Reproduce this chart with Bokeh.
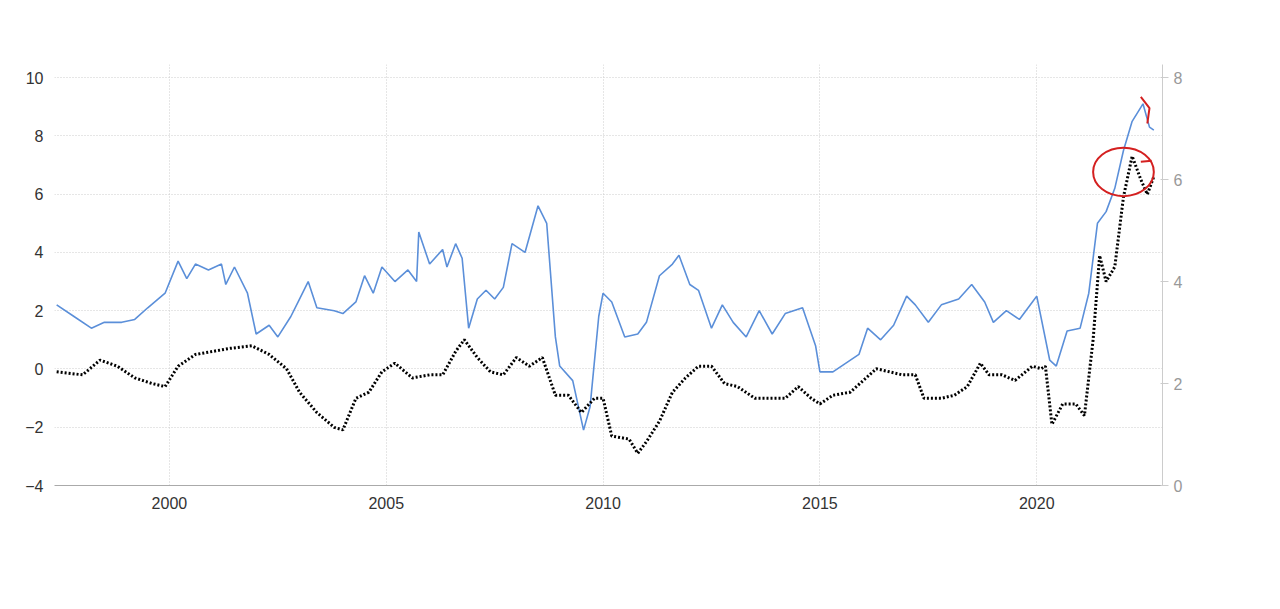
from bokeh.plotting import figure
from bokeh.models import Range1d, LinearAxis, Label, Legend, LegendItem, FixedTicker
from bokeh.embed import file_html
from bokeh.resources import INLINE

# US inflation rate (left axis, %)
cpi_t = [1997.4, 1997.8, 1998.2, 1998.5, 1998.9, 1999.2, 1999.5, 1999.9, 2000.2, 2000.4,
         2000.6, 2000.9, 2001.2, 2001.3, 2001.5, 2001.8, 2002.0, 2002.3, 2002.5, 2002.8,
         2003.0, 2003.2, 2003.4, 2003.8, 2004.0, 2004.3, 2004.5, 2004.7, 2004.9, 2005.2,
         2005.5, 2005.7, 2005.75, 2006.0, 2006.3, 2006.4, 2006.6, 2006.75, 2006.9, 2007.1,
         2007.3, 2007.5, 2007.7, 2007.9, 2008.2, 2008.5, 2008.7, 2008.9, 2009.0, 2009.3,
         2009.55, 2009.7, 2009.9, 2010.0, 2010.2, 2010.5, 2010.8, 2011.0, 2011.3, 2011.6,
         2011.75, 2012.0, 2012.2, 2012.5, 2012.75, 2013.0, 2013.3, 2013.6, 2013.9, 2014.2,
         2014.6, 2014.9, 2015.0, 2015.3, 2015.6, 2015.9, 2016.1, 2016.4, 2016.7, 2017.0,
         2017.2, 2017.5, 2017.8, 2018.2, 2018.5, 2018.8, 2019.0, 2019.3, 2019.6, 2019.9,
         2020.0, 2020.3, 2020.45, 2020.7, 2021.0, 2021.2, 2021.4, 2021.6, 2021.8, 2022.0,
         2022.2, 2022.45, 2022.6, 2022.7]
cpi_v = [2.2, 1.8, 1.4, 1.6, 1.6, 1.7, 2.1, 2.6, 3.7, 3.1,
         3.6, 3.4, 3.6, 2.9, 3.5, 2.6, 1.2, 1.5, 1.1, 1.8,
         2.4, 3.0, 2.1, 2.0, 1.9, 2.3, 3.2, 2.6, 3.5, 3.0,
         3.4, 3.0, 4.7, 3.6, 4.1, 3.5, 4.3, 3.8, 1.4, 2.4,
         2.7, 2.4, 2.8, 4.3, 4.0, 5.6, 5.0, 1.1, 0.1, -0.4,
         -2.1, -1.3, 1.8, 2.6, 2.3, 1.1, 1.2, 1.6, 3.2, 3.6,
         3.9, 2.9, 2.7, 1.4, 2.2, 1.6, 1.1, 2.0, 1.2, 1.9,
         2.1, 0.8, -0.1, -0.1, 0.2, 0.5, 1.4, 1.0, 1.5, 2.5,
         2.2, 1.6, 2.2, 2.4, 2.9, 2.3, 1.6, 2.0, 1.7, 2.3,
         2.5, 0.3, 0.1, 1.3, 1.4, 2.6, 5.0, 5.4, 6.2, 7.5,
         8.5, 9.1, 8.3, 8.2]

# US core inflation rate (right axis, %)
core_t = [1997.4, 1998.0, 1998.4, 1998.8, 1999.2, 1999.6, 1999.9, 2000.2, 2000.6, 2001.0,
          2001.4, 2001.9, 2002.3, 2002.7, 2003.0, 2003.4, 2003.8, 2004.0, 2004.3, 2004.6,
          2004.9, 2005.2, 2005.6, 2006.0, 2006.3, 2006.6, 2006.8, 2007.1, 2007.4, 2007.7,
          2008.0, 2008.3, 2008.6, 2008.9, 2009.2, 2009.5, 2009.8, 2010.0, 2010.2, 2010.6,
          2010.8, 2011.0, 2011.3, 2011.6, 2011.9, 2012.2, 2012.5, 2012.8, 2013.1, 2013.5,
          2013.8, 2014.2, 2014.5, 2014.8, 2015.0, 2015.3, 2015.7, 2016.0, 2016.3, 2016.6,
          2016.9, 2017.2, 2017.4, 2017.8, 2018.1, 2018.4, 2018.7, 2018.9, 2019.2, 2019.5,
          2019.9, 2020.1, 2020.2, 2020.35, 2020.6, 2020.9, 2021.1, 2021.3, 2021.45, 2021.6,
          2021.8, 2022.0, 2022.2, 2022.4, 2022.55, 2022.7]
core_v = [2.23, 2.17, 2.46, 2.34, 2.11, 2.0, 1.94, 2.34, 2.57, 2.63,
          2.69, 2.74, 2.57, 2.29, 1.83, 1.43, 1.14, 1.09, 1.71, 1.83,
          2.23, 2.4, 2.11, 2.17, 2.17, 2.63, 2.86, 2.51, 2.23, 2.17,
          2.51, 2.34, 2.51, 1.77, 1.77, 1.43, 1.71, 1.71, 0.97, 0.91,
          0.63, 0.86, 1.26, 1.83, 2.11, 2.34, 2.34, 2.0, 1.94, 1.71,
          1.71, 1.71, 1.94, 1.71, 1.6, 1.77, 1.83, 2.06, 2.29, 2.23,
          2.17, 2.17, 1.71, 1.71, 1.77, 1.94, 2.4, 2.17, 2.17, 2.06,
          2.34, 2.29, 2.34, 1.2, 1.6, 1.6, 1.37, 2.86, 4.51, 4.0,
          4.29, 5.66, 6.46, 6.0, 5.71, 6.06]

x_ticks = [2000, 2005, 2010, 2015, 2020]
left_ticks = [-4, -2, 0, 2, 4, 6, 8, 10]
right_ticks = [0, 2, 4, 6, 8]

FONT = "Liberation Sans"

p = figure(width=1264, height=593, output_backend="svg", toolbar_location=None,
           x_range=Range1d(1997.35, 2022.9), y_range=Range1d(-4, 10.45),
           min_border_left=54, min_border_right=102, min_border_top=64, min_border_bottom=108)
p.extra_y_ranges = {"core": Range1d(0, 8.257)}
p.outline_line_color = None

p.xaxis.ticker = FixedTicker(ticks=x_ticks)
p.yaxis.ticker = FixedTicker(ticks=left_ticks)
for ax in (p.xaxis[0], p.yaxis[0]):
    ax.major_label_text_font = FONT
    ax.major_label_text_font_size = "16px"
    ax.major_label_text_color = "#333333"
    ax.minor_tick_line_color = None
    ax.major_tick_line_color = None
p.yaxis.axis_line_color = None
p.xaxis.axis_line_color = "#aaaaaa"

r_ax = LinearAxis(y_range_name="core", ticker=FixedTicker(ticks=right_ticks))
r_ax.major_label_text_font = FONT
r_ax.major_label_text_font_size = "16px"
r_ax.major_label_text_color = "#999999"
r_ax.axis_line_color = "#cccccc"
r_ax.major_tick_line_color = "#cccccc"
r_ax.minor_tick_line_color = None
p.add_layout(r_ax, "right")

p.xgrid.ticker = FixedTicker(ticks=x_ticks)
p.grid.grid_line_color = "#cccccc"
p.grid.grid_line_dash = "1 2"

l1 = p.line(cpi_t, cpi_v, line_color="#5b8fd9", line_width=1.6)
l2 = p.line(core_t, core_v, line_color="black", line_width=3, line_dash="2 2",
            y_range_name="core")

# hand-drawn red marks
p.ellipse(x=[2022.0], y=[6.15], width=1.4, height=0.95, y_range_name="core",
          fill_color=None, line_color="#d42020", line_width=2)
p.line([2022.4, 2022.65], [6.35, 6.37], y_range_name="core", line_color="#d42020", line_width=2)
p.line([2022.4, 2022.6, 2022.55], [7.62, 7.4, 7.1], y_range_name="core", line_color="#d42020", line_width=2)

legend = Legend(items=[LegendItem(label="US INFLATION RATE", renderers=[l1]),
                       LegendItem(label="US CORE INFLATION RATE", renderers=[l2])],
                orientation="horizontal", location=(-36, 431),
                label_text_font=FONT, label_text_font_size="15px", label_text_color="#333333",
                border_line_color=None, background_fill_alpha=0, glyph_width=32, spacing=20,
                margin=0, padding=0)
p.add_layout(legend, "center")

p.add_layout(Label(x=-0, y=-74, x_units="screen", y_units="screen", text="Fuente: Tradingeconomics",
                   text_font=FONT, text_font_style="italic", text_font_size="15px", text_color="#222222"))
p.add_layout(Label(x=1108, y=-80, x_units="screen", y_units="screen", text="TRADINGECONOMICS.COM",
                   text_align="right", text_font=FONT, text_font_size="13px", text_color="#888888"))

open("out.html", "w").write(file_html(p, INLINE))
